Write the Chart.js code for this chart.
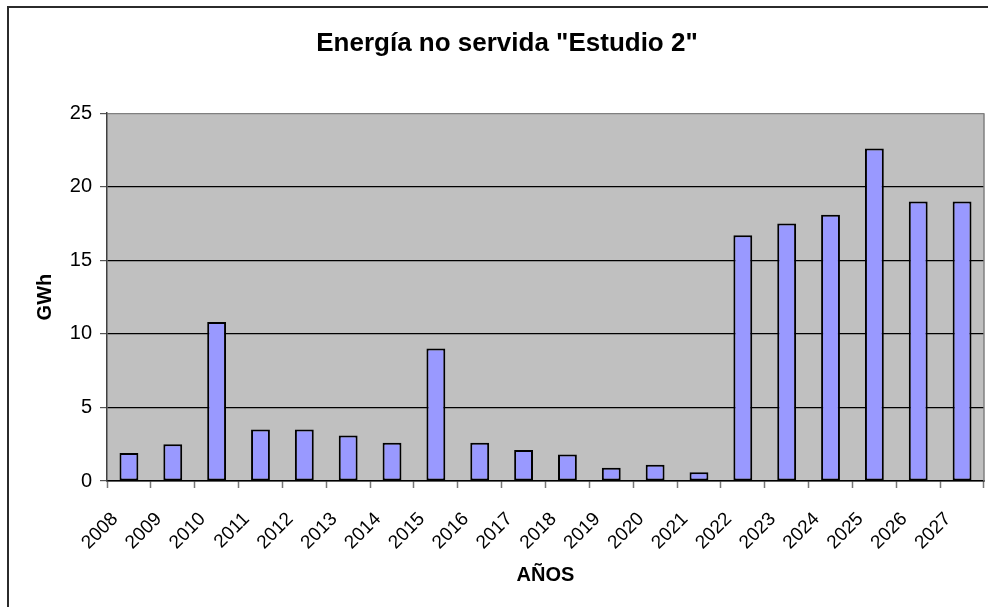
<!DOCTYPE html>
<html>
<head>
<meta charset="utf-8">
<title>Energía no servida "Estudio 2"</title>
<script src="https://cdn.jsdelivr.net/npm/chart.js@4/dist/chart.umd.min.js"></script>
<style>
  html, body { margin: 0; padding: 0; background: #fff; }
  canvas { display: block; }
</style>
</head>
<body>
<canvas id="chart" width="988" height="607"></canvas>
<script>
// Years on the category axis
const years = ['2008', '2009', '2010', '2011', '2012', '2013', '2014', '2015', '2016', '2017',
               '2018', '2019', '2020', '2021', '2022', '2023', '2024', '2025', '2026', '2027'];
// Unserved energy per year, GWh
const energyGWh = [1.9, 2.5, 10.8, 3.5, 3.5, 3.1, 2.6, 9.0, 2.6, 2.1,
                   1.8, 0.9, 1.1, 0.6, 16.7, 17.5, 18.1, 22.6, 19.0, 19.0];
// Value axis ticks
const yTicks = [0, 5, 10, 15, 20, 25];

const FONT = '"Liberation Sans", Arial, Helvetica, sans-serif';

// White page, outer frame and grey plot background
const framePlugin = {
  id: 'frame',
  beforeDraw(chart) {
    const { ctx, chartArea: a } = chart;
    ctx.save();
    ctx.fillStyle = '#ffffff';
    ctx.fillRect(0, 0, chart.width, chart.height);
    ctx.strokeStyle = '#2b2b2b';
    ctx.lineWidth = 2;
    ctx.strokeRect(8, 7, chart.width + 40, chart.height + 40);
    ctx.fillStyle = '#c0c0c0';
    ctx.fillRect(a.left, a.top, a.right - a.left, a.bottom - a.top);
    ctx.restore();
  },
  afterDatasetsDraw(chart) {
    const { ctx, chartArea: a } = chart;
    ctx.save();
    ctx.strokeStyle = '#808080';
    ctx.lineWidth = 1.5;
    ctx.beginPath();
    ctx.moveTo(a.right, a.top);
    ctx.lineTo(a.right, a.bottom);
    ctx.stroke();
    ctx.restore();
  }
};

new Chart(document.getElementById('chart'), {
  type: 'bar',
  data: {
    labels: years,
    datasets: [{
      data: energyGWh,
      backgroundColor: '#9999ff',
      borderColor: '#000000',
      borderWidth: 2,
      borderSkipped: false,
      barPercentage: 0.43,
      categoryPercentage: 1.0
    }]
  },
  options: {
    responsive: false,
    animation: false,
    devicePixelRatio: 1,
    layout: { padding: { left: 30, right: 4, top: 0, bottom: 0 } },
    plugins: {
      legend: { display: false },
      tooltip: { enabled: false },
      title: {
        display: true,
        text: 'Energía no servida "Estudio 2"',
        color: '#000',
        font: { family: FONT, size: 26, weight: 'bold' },
        padding: { top: 28, bottom: 54 }
      }
    },
    scales: {
      x: {
        offset: true,
        grid: {
          offset: true,
          drawOnChartArea: false,
          drawTicks: true,
          tickLength: 7,
          tickColor: '#777777',
          tickWidth: 1.5
        },
        border: { color: '#000000', width: 1.5 },
        ticks: {
          autoSkip: false,
          minRotation: 45,
          maxRotation: 45,
          padding: 20,
          labelOffset: -14,
          color: '#000',
          font: { family: FONT, size: 19 }
        },
        title: {
          display: true,
          text: 'AÑOS',
          color: '#000',
          font: { family: FONT, size: 20, weight: 'bold' },
          padding: { top: 0, bottom: 20 }
        },
        afterFit(scale) {
          scale.height = 126;
          scale.paddingLeft = 0;
          scale.paddingRight = 0;
        }
      },
      y: {
        min: 0,
        max: 25,
        afterBuildTicks(scale) { scale.ticks = yTicks.map(v => ({ value: v })); },
        grid: {
          color: ctx => (ctx.tick && ctx.tick.value === 25) ? '#808080' : '#000000',
          lineWidth: 1.2,
          tickLength: 7,
          tickColor: '#555555'
        },
        border: { color: '#404040', width: 1.5 },
        ticks: {
          padding: 8,
          color: '#000',
          font: { family: FONT, size: 20 }
        },
        title: {
          display: true,
          text: 'GWh',
          color: '#000',
          font: { family: FONT, size: 20, weight: 'bold' },
          padding: { top: 3, bottom: 0 }
        },
        afterFit(scale) { scale.width = 77; }
      }
    }
  },
  plugins: [framePlugin]
});
</script>
</body>
</html>
